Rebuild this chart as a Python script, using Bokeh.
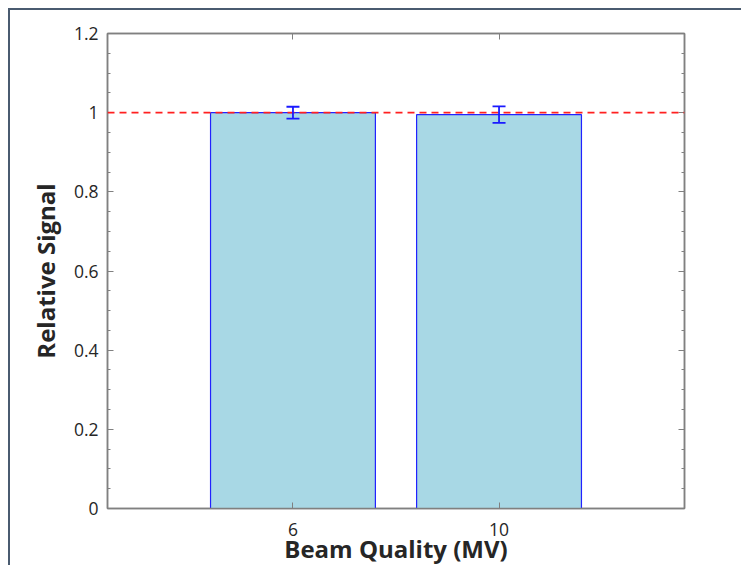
from bokeh.plotting import figure
from bokeh.models import (ColumnDataSource, FixedTicker, LinearAxis, Range1d,
                          Span, Whisker, TeeHead)
from bokeh.embed import file_html
from bokeh.resources import INLINE

# ---- data ----
beam_quality = ["6", "10"]
relative_signal = [1.000, 0.995]
signal_error = [0.015, 0.021]
reference_level = 1.0
y_ticks = [0, 0.2, 0.4, 0.6, 0.8, 1.0, 1.2]
y_tick_labels = ["0", "0.2", "0.4", "0.6", "0.8", "1", "1.2"]
x_title = "Beam Quality (MV)"
y_title = "Relative Signal"

xpos = list(range(1, len(beam_quality) + 1))
src = ColumnDataSource(dict(
    x=xpos, top=relative_signal,
    upper=[v + e for v, e in zip(relative_signal, signal_error)],
    lower=[v - e for v, e in zip(relative_signal, signal_error)],
))

FONT = "Open Sans"
AXIS_GRAY = "#808080"
TEXT = "#262626"

p = figure(width=733, height=557, output_backend="svg", toolbar_location=None,
           x_range=Range1d(0.1, 2.9), y_range=Range1d(0, 1.2),
           min_border_left=97, min_border_right=59, min_border_top=23,
           min_border_bottom=59, x_axis_location=None, y_axis_location=None)
p.styles = {"border-left": "2px solid #4a5b70", "border-top": "2px solid #4a5b70",
            "margin-left": "8px", "margin-top": "8px"}
p.grid.visible = False
p.outline_line_color = AXIS_GRAY
p.outline_line_width = 1.5
p.background_fill_color = "white"
p.border_fill_color = "white"

minor = [i * 0.05 for i in range(25)]

def style_axis(ax, labels=True):
    ax.axis_line_color = AXIS_GRAY
    ax.axis_line_width = 1.5
    ax.major_tick_line_color = AXIS_GRAY
    ax.minor_tick_line_color = AXIS_GRAY
    ax.major_tick_in = 6
    ax.major_tick_out = 0
    ax.minor_tick_in = 3
    ax.minor_tick_out = 0
    ax.major_label_text_font = FONT
    ax.major_label_text_color = TEXT
    ax.major_label_text_font_size = "17.5px"
    if not labels:
        ax.major_label_text_font_size = "0px"
        ax.major_label_text_color = None

# left axis
yl = LinearAxis(ticker=FixedTicker(ticks=y_ticks, minor_ticks=minor))
yl.major_label_overrides = {t: l for t, l in zip(y_ticks, y_tick_labels)}
style_axis(yl)
yl.major_label_standoff = 9
yl.axis_label = y_title
yl.axis_label_text_font = FONT
yl.axis_label_text_font_style = "bold"
yl.axis_label_text_font_size = "24px"
yl.axis_label_text_color = TEXT
yl.axis_label_standoff = 9
p.add_layout(yl, "left")

# right axis
yr = LinearAxis(ticker=FixedTicker(ticks=y_ticks, minor_ticks=minor))
style_axis(yr, labels=False)
p.add_layout(yr, "right")

# bottom axis
xb = LinearAxis(ticker=FixedTicker(ticks=xpos))
xb.major_label_overrides = {x: c for x, c in zip(xpos, beam_quality)}
style_axis(xb)
xb.minor_tick_in = 0
xb.major_label_standoff = 14
xb.axis_label = x_title
xb.axis_label_text_font = FONT
xb.axis_label_text_font_style = "bold"
xb.axis_label_text_font_size = "24px"
xb.axis_label_text_color = TEXT
xb.axis_label_standoff = -7
p.add_layout(xb, "below")

# top axis
xt = LinearAxis(ticker=FixedTicker(ticks=xpos))
style_axis(xt, labels=False)
xt.minor_tick_in = 0
p.add_layout(xt, "above")

# bars
p.vbar(x="x", top="top", width=0.8, bottom=0, source=src,
       fill_color="#a8d8e5", line_color="#2222ff", line_width=1.2)

# reference line
p.add_layout(Span(location=reference_level, dimension="width",
                  line_color="#ff2020", line_dash="7 5", line_width=1.6))

# error bars
w = Whisker(base="x", upper="upper", lower="lower", source=src, level="overlay",
            line_color="#1a1aff", line_width=1.8,
            upper_head=TeeHead(size=13, line_color="#1a1aff", line_width=1.8),
            lower_head=TeeHead(size=13, line_color="#1a1aff", line_width=1.8))
p.add_layout(w)

open("out.html", "w").write(file_html(p, INLINE))
